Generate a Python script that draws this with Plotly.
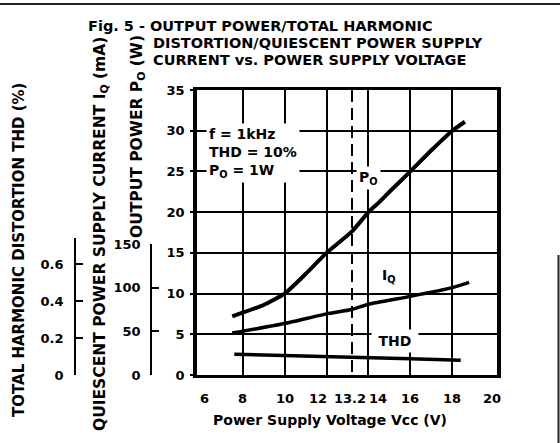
import plotly.graph_objects as go

# ---------------- data ----------------
vcc_po = [7.5, 9.0, 10.0, 11.0, 12.0, 13.2, 14.0, 14.5, 15.0, 16.0, 17.0, 18.0, 18.6]
po_w = [7.2, 8.6, 10.0, 12.4, 15.0, 17.6, 20.0, 21.2, 22.5, 25.0, 27.6, 30.0, 31.1]

vcc_iq = [7.5, 10.0, 12.0, 13.2, 14.0, 16.0, 18.0, 18.8]
iq_ma = [48, 59, 70, 75, 81, 90, 100, 106]

vcc_thd = [7.6, 10.0, 12.0, 14.0, 16.0, 18.0, 18.4]
thd_pct = [0.112, 0.106, 0.100, 0.094, 0.088, 0.081, 0.080]

x_tickvals = [6, 8, 10, 12, 13.2, 14, 16, 18, 20]
x_ticktext = ["6", "8", "10", "12", "13.2", "14", "16", "18", "20"]
x_grid = [8, 10, 12, 14, 16, 18]
x_ref = [13.2]
po_ticks = [0, 5, 10, 15, 20, 25, 30, 35]
iq_ticks = [0, 50, 100, 150]
thd_ticks = [0, 0.2, 0.4, 0.6]
thd_ticktext = ["0", "0.2", "0.4", "0.6"]

# pixel nudges for the x tick labels (the printed scale is not quite even)
x_label_nudge = {"6": 4, "12": -9, "13.2": -2, "14": 10, "20": -2}

# ---------------- geometry helpers (layout only) ----------------
W, H = 560, 443
PL, PR, PT, PB = 197, 497, 90, 375
PW = PR          # paper width (left margin = 0)
PH = PB - PT


def px(x):
    return x / PW


def py(y):
    return (PB - y) / PH


FAM = "DejaVu Sans, Verdana, sans-serif"
tick_font = dict(family=FAM, size=13, color="black", weight="bold")
title_font = dict(family=FAM, size=14.5, color="black", weight="bold")
in_font = dict(family=FAM, size=14, color="black", weight="bold")


def axt(size):
    return dict(family=FAM, size=size, color="black", weight="bold")


fig = go.Figure()

fig.add_trace(go.Scatter(x=vcc_po, y=po_w, mode="lines", xaxis="x", yaxis="y",
                         line=dict(color="black", width=4, shape="spline", smoothing=0.5),
                         hoverinfo="skip", showlegend=False))
fig.add_trace(go.Scatter(x=vcc_iq, y=iq_ma, mode="lines", xaxis="x", yaxis="y2",
                         line=dict(color="black", width=3.5, shape="spline", smoothing=0.5),
                         hoverinfo="skip", showlegend=False))
fig.add_trace(go.Scatter(x=vcc_thd, y=thd_pct, mode="lines", xaxis="x", yaxis="y3",
                         line=dict(color="black", width=3.5),
                         hoverinfo="skip", showlegend=False))
# carriers for the overlay grid axes
fig.add_trace(go.Scatter(x=[], y=[], xaxis="x2", yaxis="y", hoverinfo="skip", showlegend=False))
fig.add_trace(go.Scatter(x=[], y=[], xaxis="x3", yaxis="y", hoverinfo="skip", showlegend=False))

x_range = [5.82, 20.13]
CLEAR = "rgba(0,0,0,0)"

fig.update_layout(
    width=W, height=H,
    margin=dict(l=0, r=W - PR, t=PT, b=H - PB, pad=0, autoexpand=False),
    paper_bgcolor="white", plot_bgcolor=CLEAR,
    showlegend=False,
    xaxis=dict(domain=[PL / PW, 1], range=x_range, tickmode="array",
               tickvals=x_tickvals, showticklabels=False,
               ticks="", showgrid=False, zeroline=False,
               showline=True, mirror=True, linecolor="black", linewidth=3),
    xaxis2=dict(overlaying="x", matches="x", range=x_range, anchor="y",
                tickmode="array", tickvals=x_grid, showticklabels=False, ticks="",
                showgrid=True, gridcolor="black", gridwidth=1.6,
                zeroline=False, showline=False),
    xaxis3=dict(overlaying="x", matches="x", range=x_range, anchor="y",
                tickmode="array", tickvals=x_ref, showticklabels=False, ticks="",
                showgrid=True, gridcolor="black", gridwidth=2.2, griddash="12px,6px",
                zeroline=False, showline=False),
    yaxis=dict(domain=[0, 1], range=[0, 35], tickmode="array", tickvals=po_ticks,
               showgrid=True, gridcolor="black", gridwidth=1.6, zeroline=False,
               showline=True, mirror=True, linecolor="black", linewidth=3.5,
               ticks="outside", ticklen=3, tickwidth=1.5, tickcolor="black",
               tickfont=tick_font, ticklabelstandoff=3),
    yaxis2=dict(domain=[0, py(244)], range=[0, 150], anchor="free", position=px(151),
                side="left", tickmode="array", tickvals=iq_ticks,
                ticks="inside", ticklen=7, tickwidth=1.5, tickcolor="black",
                showline=True, linecolor="black", linewidth=1.6,
                showgrid=False, zeroline=False, tickfont=tick_font, ticklabelstandoff=7),
    yaxis3=dict(domain=[0, py(238)], range=[0, 0.6 * 137 / 111], anchor="free",
                position=px(75), side="left", tickmode="array", tickvals=thd_ticks,
                ticktext=thd_ticktext,
                ticks="inside", ticklen=7, tickwidth=1.5, tickcolor="black",
                showline=True, linecolor="black", linewidth=1.6,
                showgrid=False, zeroline=False, tickfont=tick_font, ticklabelstandoff=8),
)

ann = []


def add(text, x, y, xanchor="center", yanchor="middle", font=title_font, angle=0, **kw):
    ann.append(dict(text=text, x=px(x), y=py(y), xref="paper", yref="paper",
                    xanchor=xanchor, yanchor=yanchor, showarrow=False,
                    font=font, textangle=angle, **kw))


# x tick labels, placed on the x scale
for v, t in zip(x_tickvals, x_ticktext):
    ann.append(dict(text=t, x=v, xref="x", y=py(398), yref="paper",
                    xanchor="center", yanchor="middle", showarrow=False,
                    xshift=x_label_nudge.get(t, 0), font=tick_font))

# title (hanging indent after "Fig. 5 - ")
add("Fig. 5 - OUTPUT POWER/TOTAL HARMONIC", 86, 26, xanchor="left")
add("DISTORTION/QUIESCENT POWER SUPPLY", 151, 43.5, xanchor="left")
add("CURRENT vs. POWER SUPPLY VOLTAGE", 151, 60, xanchor="left")

# rotated axis titles
add("TOTAL HARMONIC DISTORTION THD (%)", 19, 250, font=axt(15), angle=-90)
add("QUIESCENT POWER SUPPLY CURRENT I<sub>Q</sub> (mA)", 101, 234, font=axt(15.5), angle=-90)
add("OUTPUT POWER P<sub>O</sub> (W)", 138, 137, font=axt(15.5), angle=-90)

# x axis title
add("Power Supply Voltage Vcc (V)", 330, 420, font=axt(14))

# in-plot labels
add("f = 1kHz<br>THD = 10%<br>P<sub>O</sub> = 1W", 206, 123, xanchor="left", yanchor="top",
    font=in_font, align="left", bgcolor="white", borderpad=2)
add("P<sub>O</sub>", 368, 178, font=in_font, bgcolor="white", borderpad=2)
add("I<sub>Q</sub>", 389, 276, font=in_font)
add("THD", 395, 341, font=in_font, bgcolor="white", borderpad=3, width=40)

fig.update_layout(annotations=ann)

# scan edges of the page
fig.update_layout(shapes=[
    dict(type="line", xref="paper", yref="paper", x0=0, x1=px(W), y0=py(4), y1=py(4),
         line=dict(color="#222", width=2)),
    dict(type="line", xref="paper", yref="paper", x0=px(558.5), x1=px(558.5),
         y0=py(255), y1=py(H), line=dict(color="#222", width=2)),
])

fig.write_html("out.html", config={"displayModeBar": False},
               post_script="document.body.style.margin='0';document.body.style.overflow='hidden';")
